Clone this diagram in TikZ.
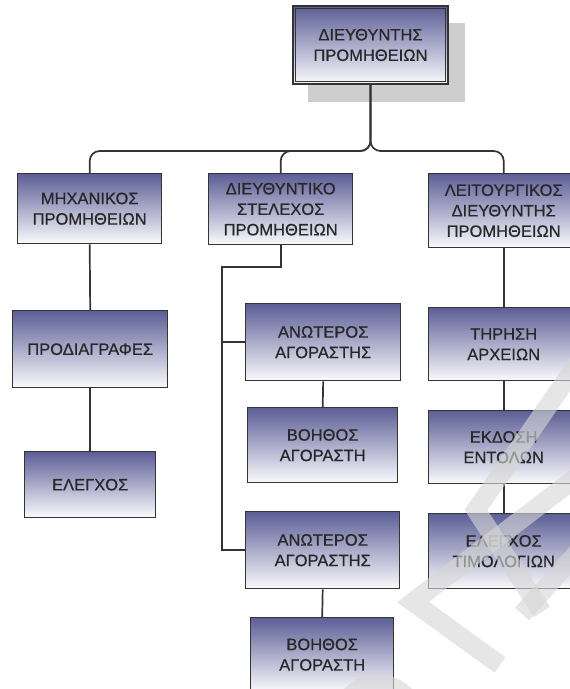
\documentclass[tikz,border=0pt]{standalone}
\usepackage{fontspec}
\setmainfont{Liberation Sans}[FakeBold=0.6]
\definecolor{boxtop}{RGB}{92,94,150}
\definecolor{boxbottom}{RGB}{250,250,253}
\definecolor{ink}{RGB}{40,40,40}
\definecolor{wire}{RGB}{52,52,52}
\definecolor{shadowgray}{RGB}{206,206,206}
\definecolor{markgray}{RGB}{214,214,214}
\tikzset{
  orgbox/.style={draw=wire, line width=1.4pt, top color=boxtop, bottom color=boxbottom,
    text=ink, align=center, inner sep=0pt, anchor=north west,
    font=\fontsize{16.5}{20.5}\selectfont},
  wire/.style={draw=wire, line width=1.7pt},
  stamp/.style={draw=markgray, line width=19pt, opacity=0.62, line join=miter}
}
\begin{document}
\begin{tikzpicture}[x=1pt,y=-1pt]
\useasboundingbox (0,0) rectangle (570,689);
\clip (0,0) rectangle (570,689);

% head of the department, with its drop shadow and double frame
\fill[shadowgray] (308,23) rectangle (465,102);
\node[orgbox, line width=2pt, minimum width=155pt, minimum height=78pt] (dir) at (292,5)
  {ΔΙΕΥΘΥΝΤΗΣ\\ΠΡΟΜΗΘΕΙΩΝ};
\draw[draw=wire, line width=0.9pt] ([shift={(3.5pt,-3.5pt)}]dir.north west)
  rectangle ([shift={(-3.5pt,3.5pt)}]dir.south east);

% second level
\node[orgbox, minimum width=144pt, minimum height=70pt] (mech) at (17,173) {ΜΗΧΑΝΙΚΟΣ\\ΠΡΟΜΗΘΕΙΩΝ};
\node[orgbox, minimum width=144pt, minimum height=71pt] (dstel) at (208,173) {ΔΙΕΥΘΥΝΤΙΚΟ\\ΣΤΕΛΕΧΟΣ\\ΠΡΟΜΗΘΕΙΩΝ};
\node[orgbox, minimum width=150pt, minimum height=74pt] (leit) at (428,173) {ΛΕΙΤΟΥΡΓΙΚΟΣ\\ΔΙΕΥΘΥΝΤΗΣ\\ΠΡΟΜΗΘΕΙΩΝ};

% left column
\node[orgbox, minimum width=155pt, minimum height=77pt] (prod) at (12,310) {ΠΡΟΔΙΑΓΡΑΦΕΣ};
\node[orgbox, minimum width=131pt, minimum height=66pt] (elegx) at (24,451) {ΕΛΕΓΧΟΣ};

% middle column
\node[orgbox, minimum width=155pt, minimum height=77pt] (anot1) at (245,303) {ΑΝΩΤΕΡΟΣ\\ΑΓΟΡΑΣΤΗΣ};
\node[orgbox, minimum width=150pt, minimum height=75pt] (voith1) at (247,407) {ΒΟΗΘΟΣ\\ΑΓΟΡΑΣΤΗ};
\node[orgbox, minimum width=154pt, minimum height=77pt] (anot2) at (245,511) {ΑΝΩΤΕΡΟΣ\\ΑΓΟΡΑΣΤΗΣ};
\node[orgbox, minimum width=143pt, minimum height=74pt] (voith2) at (250,617) {ΒΟΗΘΟΣ\\ΑΓΟΡΑΣΤΗ};

% right column
\node[orgbox, minimum width=150pt, minimum height=73pt] (tirisi) at (428,307) {ΤΗΡΗΣΗ\\ΑΡΧΕΙΩΝ};
\node[orgbox, minimum width=150pt, minimum height=73pt] (ekdosi) at (428,410) {ΕΚΔΟΣΗ\\ΕΝΤΟΛΩΝ};
\node[orgbox, minimum width=150pt, minimum height=75pt] (elegtim) at (428,513) {ΕΛΕΓΧΟΣ\\ΤΙΜΟΛΟΓΙΩΝ};

% branching from the head
\coordinate (bus) at (dir.south |- 0,151);
\draw[wire, rounded corners=10pt] (dir.south) -- (bus) -| (mech.north);
\draw[wire, rounded corners=10pt] (dir.south) -- (bus) -| (dstel.north);
\draw[wire, rounded corners=10pt] (dir.south) -- (bus) -| (leit.north);

% left column links
\draw[wire] (mech.south) -- (prod.north);
\draw[wire] (prod.south) -- (elegx.north);

% middle column links
\coordinate (trunk) at (222,267);
\draw[wire] (dstel.south) |- (trunk) |- (anot2.west);
\draw[wire] (trunk) |- (anot1.west);
\draw[wire] (anot1.south) -- (voith1.north);
\draw[wire] (anot2.south) -- (voith2.north);

% right column links
\draw[wire] (leit.south) -- (tirisi.north);
\draw[wire] (tirisi.south) -- (ekdosi.north);
\draw[wire] (ekdosi.south) -- (elegtim.north);

% faint stamp strokes across the lower right
\draw[stamp] (500,665) -- (413,602) -- (578,476);
\draw[stamp] (580,360) -- (476,510) -- (542,612);
\draw[stamp] (578,552) -- (522,614);
\draw[stamp] (378,722) circle[radius=38];
\end{tikzpicture}
\end{document}
